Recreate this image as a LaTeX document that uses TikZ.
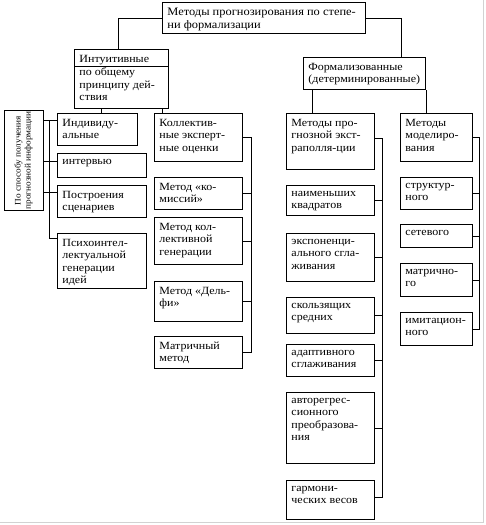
\documentclass[tikz,border=0pt]{standalone}
\usepackage{fontspec}
\setmainfont[FakeStretch=1.09]{Liberation Serif}
\usetikzlibrary{calc}
\newcommand{\cell}[3]{\parbox[c][\dimexpr#2pt-8pt\relax][t]{\dimexpr#1pt-10pt\relax}{\vspace*{1.5pt}\raggedright #3}}

\begin{document}
\begin{tikzpicture}[x=1pt, y=-1pt,
                    box/.style={draw, line width=0.9pt, anchor=north west,
                                inner xsep=5pt, inner ysep=4pt},
                    font=\fontsize{11}{12.5}\selectfont]
  \useasboundingbox (0,0) rectangle (486,525);
  \draw[gray!35] (0,522) -- (483,522) -- (483,0);
  % viršutiniai blokai
  \node[box, font=\fontsize{11.4}{13}\selectfont] (meth) at (162,2) {\cell{203}{31}{Методы прогнозирования по степе-\\ни формализации}};
  \node[box] (intuit) at (74,49) {\cell{94}{59}{Интуитивные\\[1pt]по общему\\принципу дей-\\ствия}};
  \draw[line width=0.9pt] ($(intuit.north west)+(0,17)$) -- ($(intuit.north east)+(0,17)$);
  \node[box] (formal) at (303,57) {\cell{122}{32}{Формализованные\\(детерминированные)}};
  % kairė pusė
  \node[draw, line width=0.9pt, rotate=90, minimum width=87pt, minimum height=39pt,
        align=center, inner sep=1pt, font=\fontsize{8.5}{10}\selectfont]
        (sposob) at (23.5,160.5) {По способу получения\\прогнозной информации};
  \node[box] (indiv) at (57,113) {\cell{80}{32}{Индивиду-\\альные}};
  \node[box] (interv) at (57,153) {\cell{89}{24}{интервью}};
  \node[box] (scen) at (57,185) {\cell{89}{32}{Построения\\сценариев}};
  \node[box] (psych) at (57,233) {\cell{89}{55}{Психоинтел-\\лектуальной\\генерации\\идей}};
  \node[box] (koll) at (154,113) {\cell{88}{48}{Коллектив-\\ные эксперт-\\ные оценки}};
  \node[box] (komis) at (154,177) {\cell{88}{32}{Метод «ко-\\миссий»}};
  \node[box] (kgen) at (154,217) {\cell{88}{47}{Метод кол-\\лективной\\генерации}};
  \node[box] (delfi) at (154,281) {\cell{88}{40}{Метод «Дель-\\фи»}};
  \node[box] (matr) at (154,336) {\cell{88}{32}{Матричный\\метод}};
  % dešinė pusė
  \node[box] (extrap) at (286,113) {\cell{88}{56}{Методы про-\\гнозной экст-\\раполля-ции}};
  \node[box] (kvadr) at (286,185) {\cell{88}{30}{наименьших\\квадратов}};
  \node[box] (eksp) at (286,233) {\cell{88}{48}{экспоненци-\\ального сгла-\\живания}};
  \node[box] (skolz) at (286,297) {\cell{88}{36}{скользящих\\средних}};
  \node[box] (adapt) at (286,344) {\cell{88}{32}{адаптивного\\сглаживания}};
  \node[box] (avtor) at (286,392) {\cell{88}{71}{авторегрес-\\сионного\\преобразова-\\ния}};
  \node[box] (garm) at (286,480) {\cell{88}{39}{гармони-\\ческих весов}};
  \node[box] (model) at (400,113) {\cell{72}{48}{Методы\\моделиро-\\вания}};
  \node[box] (strukt) at (400,177) {\cell{72}{32}{структур-\\ного}};
  \node[box] (setev) at (400,224) {\cell{72}{23}{сетевого}};
  \node[box] (matrich) at (400,263) {\cell{72}{33}{матрично-\\го}};
  \node[box] (imit) at (400,312) {\cell{72}{33}{имитацион-\\ного}};
  % jungtys
  \begin{scope}[line width=0.9pt]
    \draw (meth.west) -| ($(intuit.north)+(-3,0)$);
    \draw (meth.east) -| ($(formal.north)+(37,0)$);
    \draw ($(indiv.north west)+(44,0)$) -- ($(intuit.south -| indiv.north west)+(44,0)$);
    \draw ($(koll.north west)+(8,0)$) -- ($(intuit.south -| koll.north west)+(8,0)$);
    \draw ($(extrap.north west)+(26,0)$) -- ($(formal.south -| extrap.north west)+(26,0)$);
    \draw ($(model.north west)+(26,0)$) -- ($(formal.south -| model.north west)+(26,0)$);
    % kairioji magistralė
    \coordinate (lbus) at ($(sposob.south)+(6,0)$);
    \foreach \n/\d in {indiv/7,interv/8,scen/7}
      \draw ($(\n.north west)+(0,\d)$) -- ($(sposob.south |- \n.north west)+(0,\d)$);
    \draw ($(lbus |- indiv.north west)+(0,7)$) -- ($(lbus |- psych.north west)+(0,5)$)
          -- ($(psych.north west)+(0,5)$);
    % kolektyvinių metodų magistralė
    \coordinate (kbus) at ($(koll.east)+(9,0)$);
    \draw (koll.east) -- (kbus) |- (matr.east);
    \foreach \n in {komis,kgen,delfi}
      \draw (\n.east) -- (\n.east -| kbus);
    % ekstrapoliacijos magistralė
    \coordinate (ebus) at ($(extrap.east)+(8,-3)$);
    \draw ($(extrap.east)+(0,-3)$) -- (ebus) |- ($(garm.east)+(0,-3)$);
    \foreach \n in {kvadr,eksp,skolz,adapt,avtor}
      \draw (\n.east) -- (\n.east -| ebus);
    % modeliavimo magistralė
    \coordinate (mbus) at ($(model.east)+(7,0)$);
    \draw (model.east) -- (mbus) |- (imit.east);
    \foreach \n in {strukt,setev,matrich}
      \draw (\n.east) -- (\n.east -| mbus);
  \end{scope}
\end{tikzpicture}
\end{document}
